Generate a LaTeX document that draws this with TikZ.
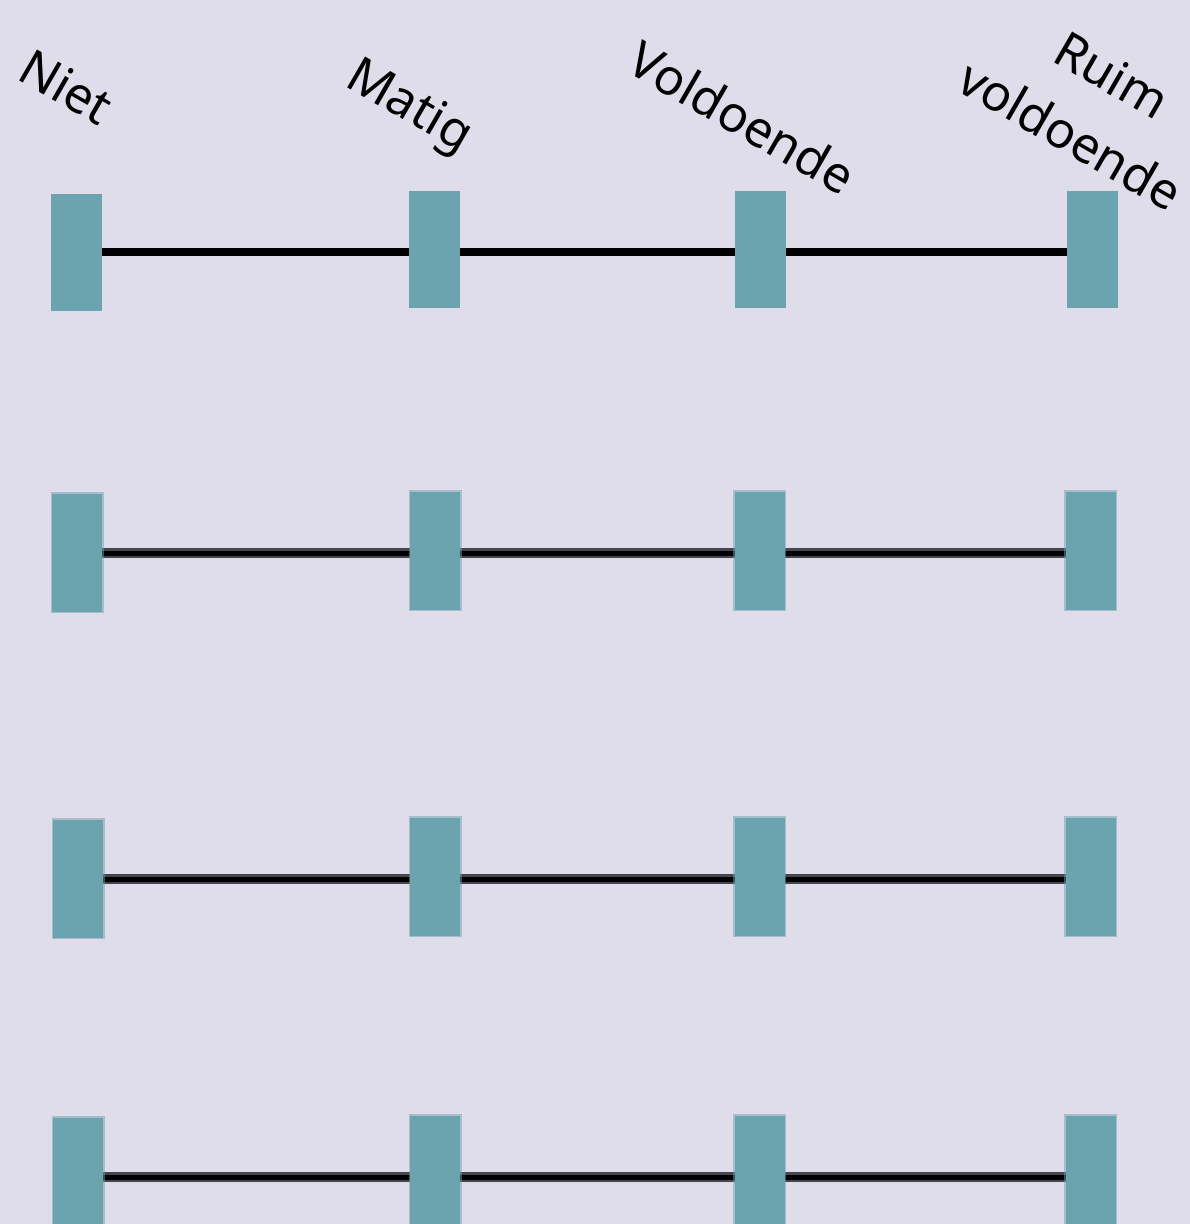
\documentclass[tikz,border=0pt]{standalone}
\usepackage{fontspec}
\setmainfont{Noto Sans}
\definecolor{bgc}{HTML}{DFDDEA}
\definecolor{barteal}{HTML}{6BA3AE}
\definecolor{linegray}{HTML}{45444F}
\pgfdeclarelayer{bglayer}
\pgfdeclarelayer{linelayer}
\pgfsetlayers{bglayer,linelayer,main}
\begin{document}
\begin{tikzpicture}[x=1pt,y=-1pt,
  lbl/.style={font=\fontsize{50}{60}\selectfont, rotate=-30, anchor=base west, inner sep=0pt, text=black},
  bar/.style={fill=barteal, draw=none, minimum width=51pt, minimum height=117pt, inner sep=0pt, outer sep=0pt},
  barb/.style={fill=barteal, draw=barteal, draw opacity=0.5, line width=3pt, minimum width=50pt, minimum height=118pt, inner sep=0pt, outer sep=0pt},
  sline/.style={draw=black, line width=8pt},
  dline/.style={draw=linegray, line width=2.5pt, double=black, double distance=5pt}]
\useasboundingbox (0,0) rectangle (1190,1224);
\begin{pgfonlayer}{bglayer}
\fill[bgc] (0,0) rectangle (1190,1224);
\end{pgfonlayer}
\clip (0,0) rectangle (1190,1224);
% labels
\node[lbl] (tn) at (15,78) {Niet};
\node[lbl] (tm) at (343.5,85) {Matig};
\node[lbl] (tv) at (624,70.5) {Voldoende};
\node[lbl] (tr1) at (1050,60) {Ruim};
\node[lbl] (tr2) at (954,89) {voldoende};
% row 1
\node[bar] (n1) at (76.5,252.5) {};
\node[bar] (m1) at (434.5,249.5) {};
\node[bar] (v1) at (760.5,249.5) {};
\node[bar] (r1) at (1092.5,249.5) {};
% row 2
\node[barb] (n2) at (77,552.5) {};
\node[barb] (m2) at (435,550.5) {};
\node[barb] (v2) at (759.5,550.5) {};
\node[barb] (r2) at (1090.5,550.5) {};
% row 3
\node[barb] (n3) at (78,878.5) {};
\node[barb] (m3) at (435,876.5) {};
\node[barb] (v3) at (759.5,876.5) {};
\node[barb] (r3) at (1090.5,876.5) {};
% row 4
\node[barb] (n4) at (78,1176.5) {};
\node[barb] (m4) at (435,1174.5) {};
\node[barb] (v4) at (759.5,1174.5) {};
\node[barb] (r4) at (1090.5,1174.5) {};
\coordinate (l1) at (0,252);
\coordinate (l2) at (0,553);
\coordinate (l3) at (0,879);
\coordinate (l4) at (0,1177);
\begin{pgfonlayer}{linelayer}
\draw[sline] (n1.east |- l1) -- (r1.west |- l1);
\draw[dline] (n2.center |- l2) -- (r2.east |- l2);
\draw[dline] (n3.center |- l3) -- (r3.east |- l3);
\draw[dline] (n4.center |- l4) -- (r4.east |- l4);
\end{pgfonlayer}
\end{tikzpicture}
\end{document}
